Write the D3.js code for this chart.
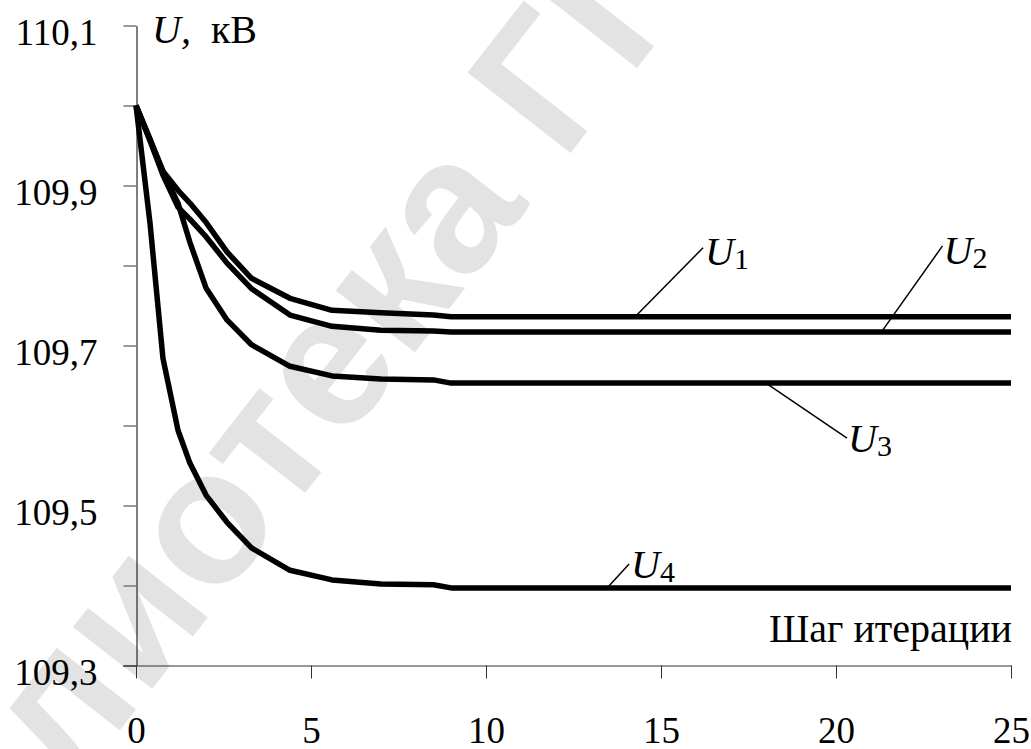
<!DOCTYPE html>
<html>
<head>
<meta charset="utf-8">
<script src="https://cdn.jsdelivr.net/npm/d3@7"></script>
<style>
  body { margin: 0; background: #fff; }
  svg { display: block; }
</style>
</head>
<body>
<svg id="chart" width="1031" height="749"></svg>
<script>
// Iteration step (abscissa) shared by all four voltage curves
const steps = [0, 0.4, 0.77, 1.2, 1.54, 2.0, 2.6, 3.3, 4.4, 5.6, 7.0, 8.5, 9,
  10, 11, 12, 13, 14, 15, 16, 17, 18, 19, 20, 21, 22, 23, 24, 25];

// Node voltages, kV
const u1 = [110.0, 109.958, 109.918, 109.894, 109.878, 109.854, 109.817, 109.784, 109.759, 109.744, 109.741, 109.738, 109.736,
  109.736, 109.736, 109.736, 109.736, 109.736, 109.736, 109.736, 109.736, 109.736, 109.736, 109.736, 109.736, 109.736, 109.736, 109.736, 109.736];
const u2 = [110.0, 109.956, 109.913, 109.873, 109.858, 109.836, 109.803, 109.771, 109.738, 109.724, 109.719, 109.718, 109.717,
  109.717, 109.717, 109.717, 109.717, 109.717, 109.717, 109.717, 109.717, 109.717, 109.717, 109.717, 109.717, 109.717, 109.717, 109.717, 109.717];
const u3 = [110.0, 109.957, 109.917, 109.878, 109.829, 109.772, 109.732, 109.701, 109.674, 109.662, 109.658, 109.657, 109.653,
  109.653, 109.653, 109.653, 109.653, 109.653, 109.653, 109.653, 109.653, 109.653, 109.653, 109.653, 109.653, 109.653, 109.653, 109.653, 109.653];
const u4 = [110.0, 109.853, 109.684, 109.594, 109.553, 109.513, 109.479, 109.447, 109.419, 109.407, 109.402, 109.401, 109.397,
  109.397, 109.397, 109.397, 109.397, 109.397, 109.397, 109.397, 109.397, 109.397, 109.397, 109.397, 109.397, 109.397, 109.397, 109.397, 109.397];

const seriesNames = ["1", "2", "3", "4"];
// Step at which each curve's callout leader touches the curve
const calloutSteps = [14.26, 21.3, 18.0, 13.46];

const xTicks = [0, 5, 10, 15, 20, 25];
const yTicks = [110.1, 110.0, 109.9, 109.8, 109.7, 109.6, 109.5, 109.4, 109.3];
const yLabelled = [110.1, 109.9, 109.7, 109.5, 109.3];

const yTitle = "кВ";
const xTitle = "Шаг итерации";
const watermark = "Библиотека ГГТУ";

const W = 1031, H = 749;
const margin = { left: 136, right: 20, top: 25.5, bottom: 83.5 };

const svg = d3.select("#chart");
svg.append("rect").attr("width", W).attr("height", H).attr("fill", "#fff");

const x = d3.scaleLinear().domain([0, 25]).range([margin.left, W - margin.right]);
const y = d3.scaleLinear().domain([109.3, 110.1]).range([H - margin.bottom, margin.top]);

const ru = d3.formatLocale({ decimal: ",", thousands: " ", grouping: [3], currency: ["", ""] });
const fmt1 = ru.format(".1f");

const serif = "'Liberation Serif', 'Times New Roman', serif";

// Library stamp in the background
svg.append("text")
  .attr("transform", "translate(290,405) rotate(-52)")
  .attr("text-anchor", "middle")
  .attr("dominant-baseline", "central")
  .attr("font-family", "'Liberation Sans', Arial, sans-serif")
  .attr("font-weight", "bold")
  .attr("font-size", 190)
  .attr("fill", "#e3e3e3")
  .text(watermark);

// Y axis
const yAxis = svg.append("g")
  .attr("transform", `translate(${margin.left + 0.5},0)`)
  .call(d3.axisLeft(y)
    .tickValues(yTicks)
    .tickSize(13)
    .tickSizeOuter(0)
    .tickPadding(26)
    .tickFormat(d => yLabelled.includes(d) ? fmt1(d) : ""));
yAxis.select(".domain").attr("stroke", "#000").attr("stroke-width", 1);
yAxis.selectAll(".tick line").attr("stroke", "#777").attr("stroke-width", 1.5);
yAxis.selectAll(".tick text")
  .attr("font-family", serif).attr("font-size", 37).attr("fill", "#000")
  .attr("dy", "0.5em");

// X axis
const xAxis = svg.append("g")
  .attr("transform", `translate(0,${y(109.3)})`)
  .call(d3.axisBottom(x)
    .tickValues(xTicks)
    .tickSize(13)
    .tickSizeOuter(0)
    .tickFormat(d3.format("d")));
xAxis.select(".domain").attr("stroke", "#333").attr("stroke-width", 1.2);
xAxis.selectAll(".tick line").attr("stroke", "#333").attr("stroke-width", 1);
xAxis.selectAll(".tick text")
  .attr("font-family", serif).attr("font-size", 37).attr("fill", "#000")
  .attr("y", 77).attr("dy", 0);
xAxis.append("line")
  .attr("x1", x(0) - 13).attr("x2", x(0))
  .attr("y1", 0.5).attr("y2", 0.5)
  .attr("stroke", "#333").attr("stroke-width", 1.2);

// Axis titles
const yt = svg.append("text")
  .attr("x", x(0) + 16).attr("y", 43)
  .attr("font-family", serif).attr("font-size", 40).attr("fill", "#000");
yt.append("tspan").attr("font-style", "italic").text("U,");
yt.append("tspan").text("\u00a0\u00a0" + yTitle);

svg.append("text")
  .attr("x", x(25) + 1).attr("y", 642)
  .attr("text-anchor", "end")
  .attr("font-family", serif).attr("font-size", 40).attr("fill", "#000")
  .text(xTitle);

// Curves
const series = [u1, u2, u3, u4];
const line = d3.line().x((d, i) => x(steps[i])).y(d => y(d));
svg.append("g").selectAll("path")
  .data(series)
  .join("path")
  .attr("d", d => line(d))
  .attr("fill", "none")
  .attr("stroke", "#000")
  .attr("stroke-width", 5.5)
  .attr("stroke-linejoin", "round");

// Callouts: leader line from the curve to the label
const interp = (vals, s) => {
  const i = d3.bisectRight(steps, s) - 1;
  const j = Math.min(i + 1, steps.length - 1);
  if (i === j) return vals[i];
  const t = (s - steps[i]) / (steps[j] - steps[i]);
  return vals[i] + t * (vals[j] - vals[i]);
};
const calloutOffsets = [[68, -69], [61, -86], [81, 55], [22, -24]];
const labelOffsets = [[2, 17], [1, 18], [1, 14], [2, 14]];

const callouts = svg.append("g");
series.forEach((vals, k) => {
  const cx = x(calloutSteps[k]);
  const cy = y(interp(vals, calloutSteps[k]));
  const ex = cx + calloutOffsets[k][0];
  const ey = cy + calloutOffsets[k][1];
  callouts.append("line")
    .attr("x1", cx).attr("y1", cy).attr("x2", ex).attr("y2", ey)
    .attr("stroke", "#000").attr("stroke-width", 1.5);
  const t = callouts.append("text")
    .attr("x", ex + labelOffsets[k][0]).attr("y", ey + labelOffsets[k][1])
    .attr("font-family", serif).attr("font-size", 40).attr("fill", "#000");
  t.append("tspan").attr("font-style", "italic").text("U");
  t.append("tspan").attr("font-size", 30).attr("dy", 4).text(seriesNames[k]);
});
</script>
</body>
</html>
